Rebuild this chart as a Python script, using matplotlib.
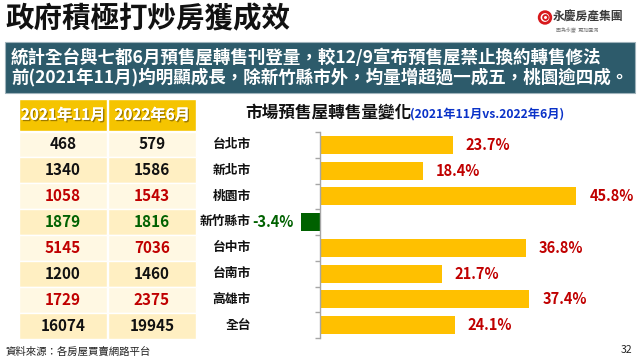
import numpy as np
import matplotlib
matplotlib.use("Agg")
import matplotlib.pyplot as plt
from matplotlib.patches import Rectangle, Circle
import matplotlib.patheffects as pe

plt.rcParams['font.family'] = ['Noto Sans CJK TC', 'DejaVu Sans']

# ---------------- data ----------------
categories = ['台北市', '新北市', '桃園市', '新竹縣市', '台中市', '台南市', '高雄市', '全台']
nov2021 = [468, 1340, 1058, 1879, 5145, 1200, 1729, 16074]
jun2022 = [579, 1586, 1543, 1816, 7036, 1460, 2375, 19945]
change_pct = [23.7, 18.4, 45.8, -3.4, 36.8, 21.7, 37.4, 24.1]
row_tone = ['black', 'black', 'red', 'green', 'red', 'black', 'red', 'black']
col_headers = ['2021年11月', '2022年6月']

title = '政府積極打炒房獲成效'
banner_lines = ['統計全台與七都6月預售屋轉售刊登量，較12/9宣布預售屋禁止換約轉售修法',
                '前(2021年11月)均明顯成長，除新竹縣市外，均量增超過一成五，桃園逾四成。']
chart_title = '市場預售屋轉售量變化'
chart_subtitle = '(2021年11月vs.2022年6月)'
source = '資料來源：各房屋買賣網路平台'
page_no = '32'

# ---------------- style ----------------
RED = '#C00000'
GREEN = '#006100'
tone_map = {'black': '#111111', 'red': RED, 'green': GREEN}
GOLD = '#FFC000'
HEADER = '#F5C400'
ROW_A = '#FFF8E3'
ROW_B = '#FFEFC2'
BANNER = '#2D5B6B'

fig = plt.figure(figsize=(6.4, 3.6), dpi=100)
ax0 = fig.add_axes([0, 0, 1, 1])
ax0.set_xlim(0, 640)
ax0.set_ylim(360, 0)
ax0.axis('off')

# title
ax0.text(5, 19, title, fontsize=20.5, fontweight='heavy', color='#111111',
         ha='left', va='center')

# logo
ax0.add_patch(Circle((545, 17.5), 5.8, facecolor='white', edgecolor='#D7191C', lw=2.0))
ax0.add_patch(Circle((545.5, 17.5), 2.4, facecolor='white', edgecolor='#D7191C', lw=1.3))
ax0.text(553, 17.5, '永慶房產集團', fontsize=8.5, fontweight='bold', color='#3a3a3a',
         ha='left', va='center')
ax0.text(556, 30, '因為永慶  更加圓滿', fontsize=3.6, color='#777777', ha='left', va='center')

# banner
ax0.add_patch(Rectangle((5, 42), 630, 51, facecolor=BANNER, edgecolor='#9fb3bb', lw=0.8))
ax0.text(11, 57.5, banner_lines[0], fontsize=12.6, fontweight='bold', color='white',
         ha='left', va='center')
ax0.text(11, 77.5, banner_lines[1], fontsize=12.6, fontweight='bold', color='white',
         ha='left', va='center')

# table
col_x = [19, 108]
col_w = [88, 88]
head_top, head_h = 99, 31.5
row_top, row_h = 131.5, 25.9
shadow = [pe.withSimplePatchShadow(offset=(1, -1), shadow_rgbFace='#7a5c00', alpha=0.7), pe.Normal()]
for j, h in enumerate(col_headers):
    ax0.add_patch(Rectangle((col_x[j], head_top), col_w[j], head_h, facecolor=HEADER,
                            edgecolor='white', lw=1.0))
    ax0.text(col_x[j] + col_w[j] / 2, head_top + head_h / 2, h, fontsize=11, fontweight='bold',
             color='white', ha='center', va='center', path_effects=shadow)

for i in range(len(categories)):
    y0 = row_top + i * row_h
    face = ROW_A if i % 2 == 0 else ROW_B
    for j, vals in enumerate([nov2021, jun2022]):
        ax0.add_patch(Rectangle((col_x[j], y0), col_w[j], row_h, facecolor=face,
                                edgecolor='white', lw=1.0))
        ax0.text(col_x[j] + col_w[j] / 2, y0 + row_h / 2, str(vals[i]), fontsize=11,
                 fontweight='bold', color=tone_map[row_tone[i]], ha='center', va='center')

# source and page
ax0.text(5, 352, source, fontsize=7.5, color='#222222', ha='left', va='center')
ax0.text(626, 350, page_no, fontsize=7.5, color='#222222', ha='center', va='center')

# chart title
ax0.text(245, 113, chart_title, fontsize=12, fontweight='bold', color='#111111',
         ha='left', va='center')
ax0.text(410, 114, chart_subtitle, fontsize=8.8, fontweight='bold', color='#0A32C8',
         ha='left', va='center')

# ---------------- bar chart ----------------
px_per_unit = 5.6
ax_left_px, ax_w_px = 280, 340
ax_top_px, ax_bot_px = 132, 338
zero_px = 320
ax = fig.add_axes([ax_left_px / 640, 1 - ax_bot_px / 360, ax_w_px / 640,
                   (ax_bot_px - ax_top_px) / 360])
ax.patch.set_alpha(0)
ypos = np.arange(len(categories))
bar_colors = [GOLD if v >= 0 else GREEN for v in change_pct]
ax.barh(ypos, change_pct, height=0.69, color=bar_colors, zorder=2)
ax.set_xlim(-(zero_px - ax_left_px) / px_per_unit, (ax_left_px + ax_w_px - zero_px) / px_per_unit)
ax.set_ylim(len(categories) - 0.5, -0.5)

for s in ['top', 'right', 'bottom']:
    ax.spines[s].set_visible(False)
ax.spines['left'].set_position(('data', 0))
ax.spines['left'].set_color('#A6A6A6')
ax.spines['left'].set_linewidth(1.0)
ax.spines['left'].set_zorder(3)
ax.set_xticks([])
ax.set_yticks(np.arange(-0.5, len(categories), 1.0))
ax.set_yticklabels([])
ax.tick_params(axis='y', direction='out', length=3.5, color='#A6A6A6', width=1.0)

for i, (cat, v) in enumerate(zip(categories, change_pct)):
    ax.annotate(cat, xy=(0, i), xytext=(-(zero_px - 251), 0), textcoords='offset pixels',
                ha='right', va='center', fontsize=9.2, fontweight='bold', color='#111111')
    lbl = f'{v:.1f}%'
    if v >= 0:
        ax.annotate(lbl, xy=(v, i), xytext=(13, 0), textcoords='offset pixels',
                    ha='left', va='center', fontsize=10.5, fontweight='bold', color=RED)
    else:
        ax.annotate(lbl, xy=(v, i), xytext=(-7, 0), textcoords='offset pixels',
                    ha='right', va='center', fontsize=10.5, fontweight='bold', color=GREEN)

fig.savefig('out.png', dpi=100)
